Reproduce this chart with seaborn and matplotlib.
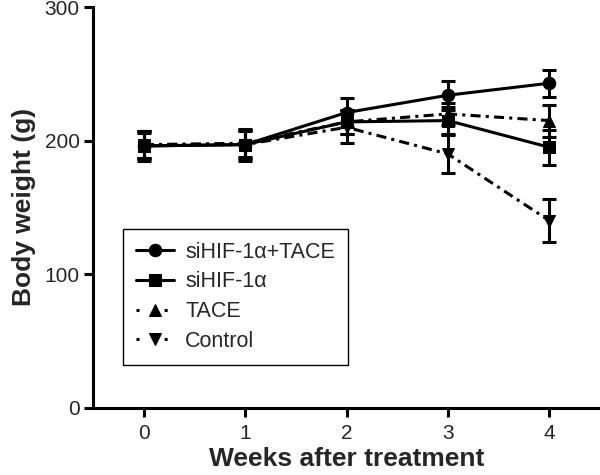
import numpy as np
import pandas as pd
import matplotlib
matplotlib.use('Agg')
import matplotlib.pyplot as plt
import seaborn as sns

# ── Data ───────────────────────────────────────────────────────────────────
weeks = [0, 1, 2, 3, 4]
groups = ['siHIF-1\u03b1+TACE', 'siHIF-1\u03b1', 'TACE', 'Control']
combo_mean = [196, 197, 221, 234, 243]
combo_err = [10, 11, 11, 11, 10]
sihif_mean = [196, 197, 214, 215, 195]
sihif_err = [11, 12, 9, 10, 13]
tace_mean = [197, 198, 214, 220, 215]
tace_err = [10, 10, 9, 8, 12]
ctrl_mean = [197, 197, 210, 190, 140]
ctrl_err = [10, 10, 12, 14, 16]

means = [combo_mean, sihif_mean, tace_mean, ctrl_mean]
errs = [combo_err, sihif_err, tace_err, ctrl_err]
markers = ['o', 's', '^', 'v']
dashdot = (0, (3.3, 1.7, 1.0, 1.7))
styles = ['-', '-', dashdot, dashdot]

sns.set_style('ticks')
plt.rcParams['font.family'] = ['Liberation Sans', 'DejaVu Sans']

fig = plt.figure(figsize=(6, 4.75), dpi=100)
ax = fig.add_axes([0.155, 0.142, 0.845, 0.843])

lw = 2.2
for name, m, e, mk, ls in zip(groups, means, errs, markers, styles):
    df = pd.DataFrame({'week': weeks, 'weight': m})
    ax.errorbar(weeks, m, yerr=e, fmt='none', ecolor='black',
                elinewidth=lw, capsize=5, capthick=lw, zorder=3)
    sns.lineplot(data=df, x='week', y='weight', ax=ax, color='black',
                 marker=mk, markersize=9, markeredgecolor='black',
                 markerfacecolor='black', linewidth=lw, linestyle=ls,
                 errorbar=None, label=name, zorder=4)

ax.set_xlim(-0.5, 4.5)
ax.set_ylim(0, 300)
ax.set_xticks(weeks)
ax.set_yticks([0, 100, 200, 300])
ax.set_xlabel('Weeks after treatment', fontsize=19, fontweight='bold', labelpad=3)
ax.set_ylabel('Body weight (g)', fontsize=19, fontweight='bold', labelpad=6)
ax.tick_params(axis='both', labelsize=15, width=lw, length=6.5, color='black')
ax.tick_params(axis='x', pad=5)
ax.tick_params(axis='y', pad=3)

sns.despine(ax=ax)
for side in ['left', 'bottom']:
    ax.spines[side].set_linewidth(lw)
    ax.spines[side].set_color('black')

leg = ax.legend(loc='upper left', bbox_to_anchor=(0.059, 0.446), borderaxespad=0,
                fontsize=15.5, frameon=True, fancybox=False, edgecolor='black',
                framealpha=1, handlelength=1.75, handletextpad=0.55,
                labelspacing=0.4, borderpad=0.6)
leg.get_frame().set_linewidth(1.0)
# legend handles of the dash-dot series show only the end dots, as in the source
for line in leg.get_lines()[2:]:
    line.set_linestyle((0, (1, 8.2)))

plt.savefig('out.png', dpi=100)
plt.close()
